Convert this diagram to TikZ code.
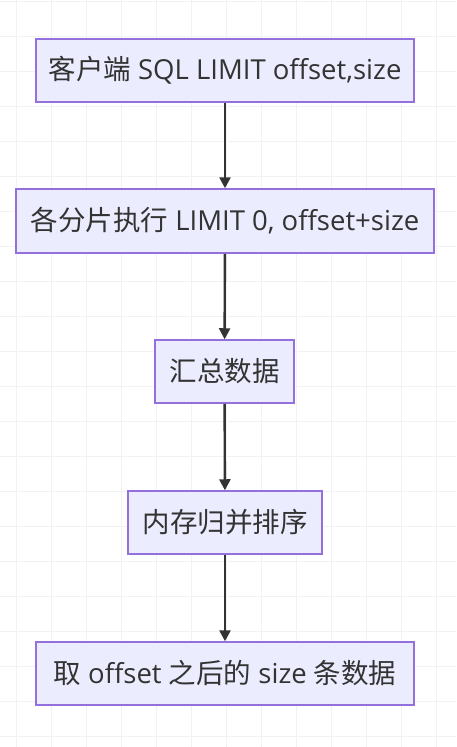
\documentclass[tikz,border=0pt]{standalone}
\usepackage{fontspec}
\setmainfont{Open Sans}
\newfontfamily\cjk{Noto Sans CJK SC}
\usetikzlibrary{arrows.meta}

\definecolor{boxfill}{HTML}{ECECFF}
\definecolor{boxline}{HTML}{9370DB}
\definecolor{ink}{HTML}{333333}
\definecolor{gridgray}{HTML}{F2F2F2}

\tikzset{
  stepbox/.style={draw=boxline, fill=boxfill, line width=1.5pt, text=ink,
    font=\fontsize{27.5}{33}\selectfont, minimum height=63pt, inner sep=0pt},
  flow/.style={draw=ink, line width=2.4pt, -{Triangle[length=11pt,width=11pt]}},
  gridline/.style={draw=gridgray, line width=1pt}
}

\begin{document}
\begin{tikzpicture}[x=1pt,y=-1pt]

\useasboundingbox (0,0) rectangle (456,747);
\fill[white] (0,0) rectangle (456,747);

%% background grid
\foreach \gx in {16.7,51.7,...,456} \draw[gridline] (\gx,0) -- (\gx,747);
\foreach \gy in {1.7,36.7,...,747} \draw[gridline] (0,\gy) -- (456,\gy);

%% boxes
\node[stepbox, minimum width=378pt] (client) at (225,70.5) {{\cjk 客户端} SQL LIMIT offset,size};
\node[stepbox, minimum width=418pt, minimum height=64pt] (shard) at (225,221) {{\cjk 各分片执行} LIMIT 0, offset+size};
\node[stepbox, minimum width=139pt] (collect) at (224.5,371.5) {\cjk 汇总数据};
\node[stepbox, minimum width=194pt] (merge) at (225,522.5) {\cjk 内存归并排序};
\node[stepbox, minimum width=378pt] (take) at (225,673.5) {{\cjk 取} offset {\cjk 之后的} size {\cjk 条数据}};

%% arrows
\draw[flow] (client) -- (shard);
\draw[flow] (shard) -- (collect);
\draw[flow] (collect) -- (merge);
\draw[flow] (merge) -- (take);

\end{tikzpicture}
\end{document}
